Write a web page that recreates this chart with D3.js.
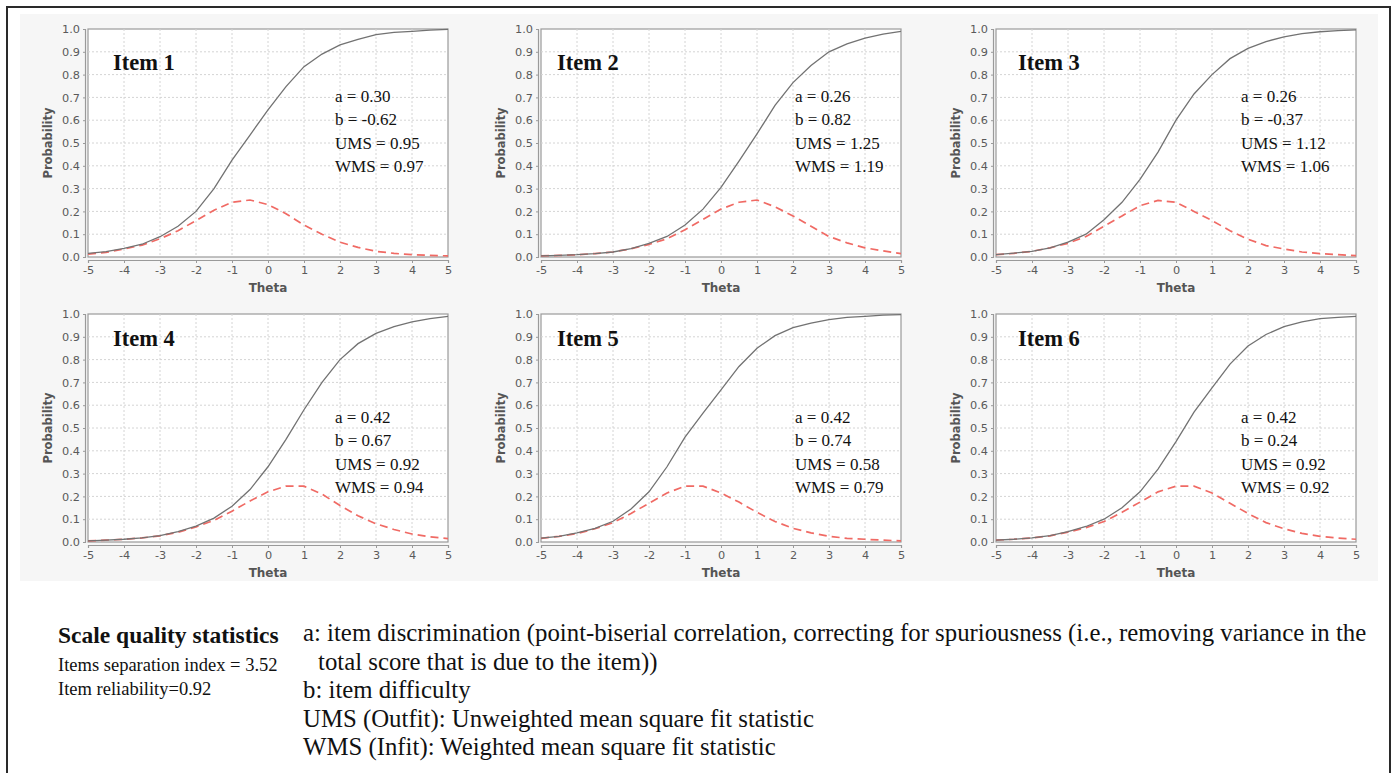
<!DOCTYPE html>
<html>
<head>
<meta charset="utf-8">
<script src="https://cdn.jsdelivr.net/npm/d3@7"></script>
<style>
  body { margin: 0; background: #fff; }
  svg { display: block; }
</style>
</head>
<body>
<svg id="chart" width="1397" height="773"></svg>
<script>
// theta grid shared by every panel
const theta = [-5, -4.5, -4, -3.5, -3, -2.5, -2, -1.5, -1, -0.5, 0, 0.5, 1, 1.5, 2, 2.5, 3, 3.5, 4, 4.5, 5];

const itemNames = ["Item 1", "Item 2", "Item 3", "Item 4", "Item 5", "Item 6"];
const aVals   = [0.30, 0.26, 0.26, 0.42, 0.42, 0.42];
const bVals   = [-0.62, 0.82, -0.37, 0.67, 0.74, 0.24];
const umsVals = [0.95, 1.25, 1.12, 0.92, 0.58, 0.92];
const wmsVals = [0.97, 1.19, 1.06, 0.94, 0.79, 0.92];

// item characteristic curves (solid grey)
const icc1 = [0.016, 0.024, 0.038, 0.056, 0.089, 0.135, 0.20, 0.30, 0.425, 0.535, 0.645, 0.747, 0.835, 0.89, 0.93, 0.955, 0.975, 0.985, 0.99, 0.995, 0.998];
const icc2 = [0.005, 0.007, 0.010, 0.015, 0.022, 0.037, 0.06, 0.09, 0.14, 0.21, 0.305, 0.42, 0.54, 0.665, 0.765, 0.84, 0.90, 0.935, 0.96, 0.978, 0.99];
const icc3 = [0.010, 0.017, 0.025, 0.040, 0.065, 0.10, 0.163, 0.24, 0.34, 0.46, 0.60, 0.715, 0.80, 0.87, 0.915, 0.945, 0.965, 0.98, 0.988, 0.993, 0.996];
const icc4 = [0.005, 0.008, 0.012, 0.018, 0.028, 0.045, 0.07, 0.105, 0.157, 0.23, 0.33, 0.45, 0.58, 0.70, 0.80, 0.87, 0.915, 0.945, 0.965, 0.98, 0.99];
const icc5 = [0.017, 0.025, 0.04, 0.06, 0.091, 0.145, 0.22, 0.33, 0.46, 0.565, 0.667, 0.77, 0.85, 0.905, 0.94, 0.96, 0.975, 0.985, 0.99, 0.995, 0.997];
const icc6 = [0.008, 0.012, 0.018, 0.028, 0.045, 0.068, 0.10, 0.15, 0.22, 0.32, 0.44, 0.57, 0.676, 0.78, 0.86, 0.91, 0.945, 0.965, 0.98, 0.985, 0.99];

// information curves (red dashed)
const info1 = [0.013, 0.02, 0.035, 0.052, 0.08, 0.115, 0.16, 0.205, 0.24, 0.25, 0.23, 0.19, 0.14, 0.10, 0.065, 0.042, 0.025, 0.016, 0.01, 0.007, 0.005];
const info2 = [0.005, 0.007, 0.01, 0.015, 0.022, 0.036, 0.055, 0.08, 0.12, 0.165, 0.21, 0.24, 0.25, 0.22, 0.18, 0.135, 0.09, 0.062, 0.04, 0.027, 0.015];
const info3 = [0.01, 0.016, 0.025, 0.04, 0.06, 0.09, 0.135, 0.18, 0.225, 0.248, 0.24, 0.20, 0.16, 0.115, 0.078, 0.05, 0.035, 0.022, 0.015, 0.01, 0.006];
const info4 = [0.005, 0.008, 0.012, 0.018, 0.027, 0.043, 0.066, 0.095, 0.135, 0.18, 0.22, 0.245, 0.245, 0.21, 0.16, 0.115, 0.08, 0.055, 0.035, 0.023, 0.015];
const info5 = [0.016, 0.025, 0.037, 0.058, 0.085, 0.125, 0.17, 0.215, 0.245, 0.245, 0.215, 0.175, 0.13, 0.09, 0.06, 0.04, 0.025, 0.016, 0.012, 0.008, 0.005];
const info6 = [0.008, 0.012, 0.018, 0.027, 0.043, 0.063, 0.09, 0.13, 0.175, 0.22, 0.245, 0.245, 0.215, 0.17, 0.125, 0.085, 0.058, 0.038, 0.025, 0.017, 0.012];

const iccs = [icc1, icc2, icc3, icc4, icc5, icc6];
const infos = [info1, info2, info3, info4, info5, info6];

const xTicks = [-5, -4, -3, -2, -1, 0, 1, 2, 3, 4, 5];
const yTicks = [0, 0.1, 0.2, 0.3, 0.4, 0.5, 0.6, 0.7, 0.8, 0.9, 1.0];

const notesLeftTitle = "Scale quality statistics";
const notesLeft = ["Items separation index = 3.52", "Item reliability=0.92"];
const notesRight = [
	"a: item discrimination (point-biserial correlation, correcting for spuriousness (i.e., removing variance in the",
	"total score that is due to the item))",
	"b: item difficulty",
	"UMS (Outfit): Unweighted mean square fit statistic",
	"WMS (Infit): Weighted mean square fit statistic"
];

// layout
var colLeft = [88, 541, 996];
var rowTop = [29, 314];
var plotW = 360, plotH = 228;
var labelX = [113, 557, 1018];
var statsX = [335, 795, 1241];
var labelDy = [41, 32];     // baseline of "Item n" below plot top
var statsDy = [73, 109];    // baseline of first stats line below plot top

var svg = d3.select("#chart");
var serif = "'Liberation Serif', 'Times New Roman', serif";
var sans = "'DejaVu Sans', Verdana, sans-serif";

// faint grey band behind the six charts
svg.append("rect")
	.attr("x", 20).attr("y", 14)
	.attr("width", 1358).attr("height", 567)
	.attr("fill", "#f6f6f6");

// outer frame
svg.append("rect")
	.attr("x", 7).attr("y", 7)
	.attr("width", 1383).attr("height", 790)
	.attr("fill", "none")
	.attr("stroke", "#2a2a2a")
	.attr("stroke-width", 2);

var fmt2 = d3.format(".2f");

itemNames.forEach(function(name, i) {
	var col = i % 3, row = Math.floor(i / 3);
	var left = colLeft[col], top = rowTop[row];

	var x = d3.scaleLinear().domain([-5, 5]).range([0, plotW]);
	var y = d3.scaleLinear().domain([0, 1]).range([plotH, 0]);

	var g = svg.append("g").attr("transform", "translate(" + left + "," + top + ")");

	g.append("rect")
		.attr("width", plotW).attr("height", plotH)
		.attr("fill", "#fff")
		.attr("stroke", "#9a9a9a")
		.attr("stroke-width", 1.2);

	// dotted grid
	g.append("g").selectAll("line.gx").data(xTicks.slice(1, -1)).enter().append("line")
		.attr("x1", d => x(d)).attr("x2", d => x(d))
		.attr("y1", 0).attr("y2", plotH)
		.attr("stroke", "#d4d4d4").attr("stroke-dasharray", "2,2");
	g.append("g").selectAll("line.gy").data(yTicks.slice(1, -1)).enter().append("line")
		.attr("x1", 0).attr("x2", plotW)
		.attr("y1", d => y(d)).attr("y2", d => y(d))
		.attr("stroke", "#d4d4d4").attr("stroke-dasharray", "2,2");

	// axes, offset a little outside the plot frame
	var yAxis = g.append("g")
		.attr("transform", "translate(-3,0)")
		.call(d3.axisLeft(y).tickValues(yTicks).tickFormat(d3.format(".1f")).tickSize(2).tickPadding(3));
	var xAxis = g.append("g")
		.attr("transform", "translate(0," + (plotH + 3) + ")")
		.call(d3.axisBottom(x).tickValues(xTicks).tickFormat(d3.format("d")).tickSize(3).tickPadding(3));
	[yAxis, xAxis].forEach(function(ax) {
		ax.select(".domain").attr("stroke", "#9a9a9a").attr("stroke-width", 1.2);
		ax.selectAll(".tick line").attr("stroke", "#9a9a9a");
		ax.selectAll("text")
			.attr("fill", "#5a5a5a")
			.style("font-family", sans)
			.style("font-size", "11.3px");
	});
	// d3 prints the minus sign as U+2212; the reference uses a hyphen
	xAxis.selectAll("text").text(d => String(d));

	g.append("text")
		.attr("x", plotW / 2).attr("y", plotH + 35)
		.attr("text-anchor", "middle")
		.attr("fill", "#555")
		.style("font-family", sans).style("font-weight", "bold").style("font-size", "12px")
		.text("Theta");
	g.append("text")
		.attr("transform", "translate(-36," + (plotH / 2) + ") rotate(-90)")
		.attr("text-anchor", "middle")
		.attr("fill", "#555")
		.style("font-family", sans).style("font-weight", "bold").style("font-size", "11.5px")
		.text("Probability");

	var pts = theta.map(function(t, k) { return { t: t, p: iccs[i][k], inf: infos[i][k] }; });

	g.append("path")
		.datum(pts)
		.attr("fill", "none")
		.attr("stroke", "#f06a64")
		.attr("stroke-width", 1.7)
		.attr("stroke-dasharray", "8,5")
		.attr("d", d3.line().x(d => x(d.t)).y(d => y(d.inf)));

	g.append("path")
		.datum(pts)
		.attr("fill", "none")
		.attr("stroke", "#727272")
		.attr("stroke-width", 1.3)
		.attr("d", d3.line().x(d => x(d.t)).y(d => y(d.p)));

	// labels
	svg.append("text")
		.attr("x", labelX[col]).attr("y", top + labelDy[row])
		.attr("fill", "#111")
		.style("font-family", serif).style("font-weight", "bold").style("font-size", "22.5px")
		.text(name);

	var lines = ["a = " + fmt2(aVals[i]), "b = " + fmt2(bVals[i]).replace("\u2212", "-"),
		"UMS = " + fmt2(umsVals[i]), "WMS = " + fmt2(wmsVals[i])];
	svg.append("g").selectAll("text").data(lines).enter().append("text")
		.attr("x", statsX[col])
		.attr("y", (d, k) => top + statsDy[row] + k * 23.3)
		.attr("fill", "#111")
		.style("font-family", serif).style("font-size", "17px")
		.text(d => d);
});

// notes underneath
svg.append("text")
	.attr("x", 58).attr("y", 643)
	.attr("fill", "#111")
	.style("font-family", serif).style("font-weight", "bold").style("font-size", "23.5px")
	.text(notesLeftTitle);
svg.append("g").selectAll("text").data(notesLeft).enter().append("text")
	.attr("x", 58)
	.attr("y", (d, k) => 671 + k * 24)
	.attr("fill", "#111")
	.style("font-family", serif).style("font-size", "18.5px")
	.text(d => d);
svg.append("g").selectAll("text").data(notesRight).enter().append("text")
	.attr("x", (d, k) => k == 1 ? 318 : 303)
	.attr("y", (d, k) => 641 + k * 28.5)
	.attr("fill", "#111")
	.style("font-family", serif).style("font-size", "24.8px")
	.text(d => d);
</script>
</body>
</html>
